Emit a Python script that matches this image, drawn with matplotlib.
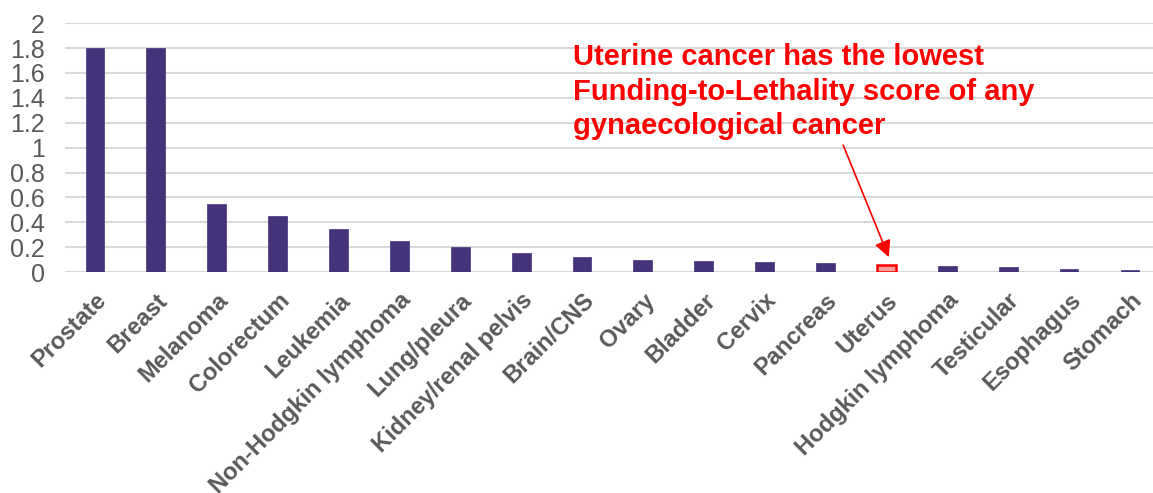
import matplotlib.pyplot as plt
from matplotlib.patches import Rectangle
from matplotlib.ticker import FuncFormatter

plt.rcParams['font.family'] = ['Liberation Sans', 'DejaVu Sans']

cancers = ['Prostate', 'Breast', 'Melanoma', 'Colorectum', 'Leukemia',
           'Non-Hodgkin lymphoma', 'Lung/pleura', 'Kidney/renal pelvis',
           'Brain/CNS', 'Ovary', 'Bladder', 'Cervix', 'Pancreas', 'Uterus',
           'Hodgkin lymphoma', 'Testicular', 'Esophagus', 'Stomach']
scores = [1.8, 1.8, 0.55, 0.45, 0.35, 0.25, 0.2, 0.15, 0.12, 0.1, 0.09,
          0.08, 0.07, 0.06, 0.05, 0.04, 0.025, 0.015]
highlight = 'Uterus'
note = ('Uterine cancer has the lowest\nFunding-to-Lethality score of any\n'
        'gynaecological cancer')
yticks = [0, 0.2, 0.4, 0.6, 0.8, 1, 1.2, 1.4, 1.6, 1.8, 2]

purple = '#44337A'
gray = '#595959'

fig = plt.figure(figsize=(11.53, 4.93), dpi=100)
ax = fig.add_axes([0.056, 0.448, 0.9504, 0.505])

x = list(range(len(cancers)))
colors = ['#F4A09C' if c == highlight else purple for c in cancers]
edges = ['#FF0000' if c == highlight else purple for c in cancers]
lws = [1.8 if c == highlight else 0.5 for c in cancers]
ax.bar(x, scores, width=0.31, color=colors, edgecolor=edges, linewidth=lws, zorder=3)

ax.set_xlim(-0.5, len(cancers) - 0.5)
ax.set_ylim(0, 2)
ax.set_yticks(yticks)
ax.yaxis.set_major_formatter(FuncFormatter(lambda v, p: f'{v:g}'))
ax.grid(axis='y', color='#D9D9D9', linewidth=1.5, zorder=0)
for s in ax.spines.values():
    s.set_visible(False)
ax.tick_params(axis='both', length=0, colors=gray)
ax.tick_params(axis='y', pad=14, labelsize=18)
ax.tick_params(axis='x', pad=12)
ax.set_xticks(x)
ax.set_xticklabels(cancers, rotation=45, ha='right', rotation_mode='anchor',
                   fontweight='bold', fontsize=17, color=gray)

# white text box behind the callout, hides the gridlines there
ax.add_patch(Rectangle((7.49, 0.9), 9.05, 1.04, facecolor='white',
                       edgecolor='none', zorder=1))

hi = cancers.index(highlight)
ax.annotate('', xy=(hi + 0.04, scores[hi] + 0.06), xytext=(12.29, 1.02),
            arrowprops=dict(arrowstyle='-|>,head_length=1.0,head_width=0.5',
                            color='red', lw=1.2, shrinkA=0, shrinkB=0),
            zorder=4)
ax.text(7.85, 1.84, note, color='red', fontsize=21, fontweight='bold',
        va='top', ha='left', linespacing=1.3, zorder=4)

fig.savefig('out.png', dpi=100)
